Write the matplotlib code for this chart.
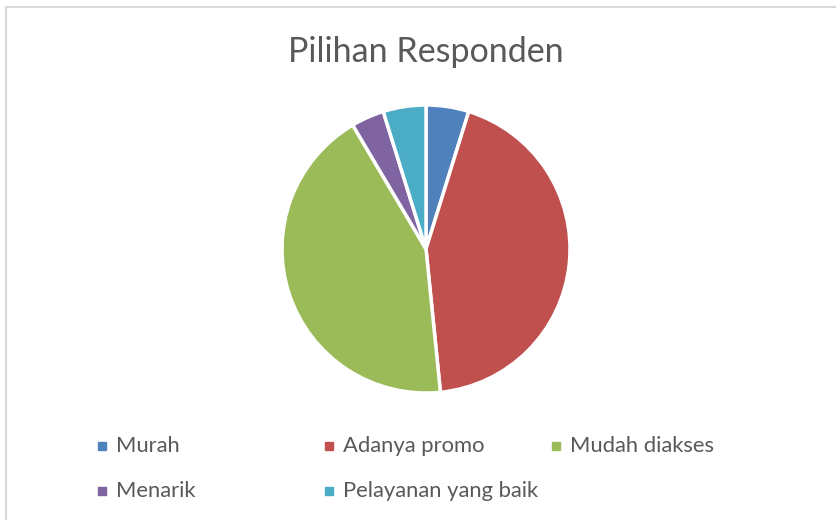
import matplotlib
matplotlib.use('Agg')
import matplotlib.pyplot as plt
from matplotlib.lines import Line2D

# data (percent shares)
labels = ['Murah', 'Adanya promo', 'Mudah diakses', 'Menarik', 'Pelayanan yang baik']
shares = [4.8, 43.6, 43.1, 3.7, 4.8]
colors = ['#4f81bd', '#c0504d', '#9bbb59', '#8064a2', '#4bacc6']

plt.rcParams['font.family'] = ['Lato', 'DejaVu Sans']

fig = plt.figure(figsize=(8.36, 5.2), dpi=100)

# chart frame (only top and left edges visible)
fig.add_artist(Line2D([5.5/836, 5.5/836], [0, 1 - 6.5/520], color='#d9d9d9', lw=1.5))
fig.add_artist(Line2D([5.5/836, 1], [1 - 6.5/520, 1 - 6.5/520], color='#d9d9d9', lw=1.5))

fig.text(426/836, 1 - 52/520, 'Pilihan Responden', ha='center', va='center',
         fontsize=24.5, color='#595959')

# pie: centre (426, 249), radius 144 px
r = 144
ax = fig.add_axes([(426 - r)/836, 1 - (249 + r)/520, 2*r/836, 2*r/520])
ax.pie(shares, colors=colors, startangle=90, counterclock=False,
       wedgeprops=dict(edgecolor='white', linewidth=2.5))
ax.set_xlim(-1, 1)
ax.set_ylim(-1, 1)
ax.set_aspect('auto')
ax.axis('off')

# legend drawn by hand in a grid of 3 columns
xs = [102, 329, 556]
ys = [446, 491]
for i, (lab, c) in enumerate(zip(labels, colors)):
    x = xs[i % 3]
    y = ys[i // 3]
    fig.patches.append(plt.Rectangle(((x - 4)/836, 1 - (y + 4)/520), 8/836, 8/520,
                                     transform=fig.transFigure, color=c, figure=fig))
    fig.text((x + 14)/836, 1 - y/520, lab, ha='left', va='center',
             fontsize=15.8, color='#595959')

fig.savefig('out.png', dpi=100)
